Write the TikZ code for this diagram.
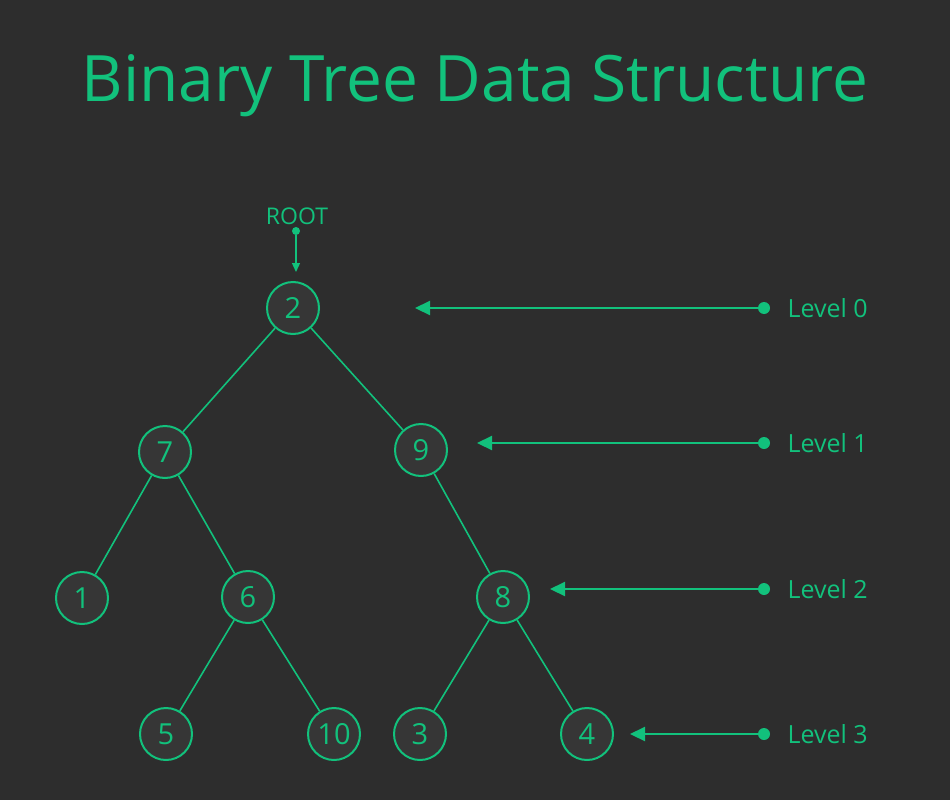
\documentclass[tikz,border=0pt]{standalone}
\usepackage{fontspec}
\setmainfont{Open Sans}
\usetikzlibrary{arrows.meta}
\definecolor{bg}{HTML}{2D2D2D}
\definecolor{nodefill}{HTML}{363636}
\definecolor{gr}{HTML}{12C17C}
\tikzset{
  tn/.style={circle, draw=gr, fill=nodefill, line width=2pt, minimum size=52pt, inner sep=0pt, text=gr, font=\fontsize{29}{32}\selectfont},
  edge/.style={draw=gr, line width=1.6pt},
  lvlarrow/.style={draw=gr, line width=2.2pt, -{Triangle[length=15pt,width=14pt]}},
  dotc/.style={circle, fill=gr, inner sep=0pt, minimum size=12pt},
  lvltext/.style={text=gr, anchor=west, font=\fontsize{25}{28}\selectfont},
}
\begin{document}
\begin{tikzpicture}[x=1pt,y=-1pt]
\fill[bg] (0,0) rectangle (950,800);
\useasboundingbox (0,0) rectangle (950,800);
\node[text=gr, font=\fontsize{64}{70}\selectfont] (title) at (475,86) {Binary Tree Data Structure};
% tree nodes
\node[tn] (n2) at (293,308) {2};
\node[tn] (n7) at (165,452) {7};
\node[tn] (n9) at (421,450) {9};
\node[tn] (n1) at (82,598) {1};
\node[tn] (n6) at (248,597) {6};
\node[tn] (n8) at (503,597) {8};
\node[tn] (n5) at (166,734) {5};
\node[tn] (n10) at (334,734) {10};
\node[tn] (n3) at (420,734) {3};
\node[tn] (n4) at (587,734) {4};
\draw[edge] (n2) -- (n7);
\draw[edge] (n2) -- (n9);
\draw[edge] (n7) -- (n1);
\draw[edge] (n7) -- (n6);
\draw[edge] (n9) -- (n8);
\draw[edge] (n6) -- (n5);
\draw[edge] (n6) -- (n10);
\draw[edge] (n8) -- (n3);
\draw[edge] (n8) -- (n4);
% root
\node[text=gr, font=\fontsize{23}{26}\selectfont] (root) at (297,216) {ROOT};
\node[circle, fill=gr, inner sep=0pt, minimum size=8pt] (rdot) at (296,231) {};
\coordinate (rend) at (296,272);
\draw[draw=gr, line width=1.3pt, -{Triangle[length=9pt,width=8pt]}] (rdot) -- (rend);
% levels
\node[dotc] (d0) at (764,308) {};
\node[dotc] (d1) at (764,443) {};
\node[dotc] (d2) at (764,589) {};
\node[dotc] (d3) at (764,734) {};
\coordinate (e0) at (415,308);
\coordinate (e1) at (477,443);
\coordinate (e2) at (550,589);
\coordinate (e3) at (630,734);
\draw[lvlarrow] (d0) -- (e0);
\draw[lvlarrow] (d1) -- (e1);
\draw[lvlarrow] (d2) -- (e2);
\draw[lvlarrow] (d3) -- (e3);
\node[lvltext] (l0) at (784,308) {Level 0};
\node[lvltext] (l1) at (784,443) {Level 1};
\node[lvltext] (l2) at (784,589) {Level 2};
\node[lvltext] (l3) at (784,734) {Level 3};
\end{tikzpicture}
\end{document}
